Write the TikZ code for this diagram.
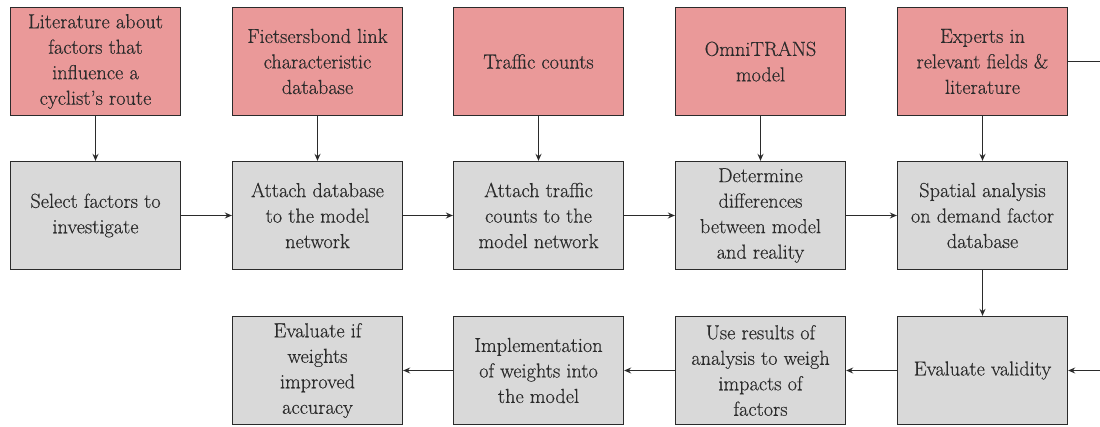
\documentclass[tikz,border=0pt]{standalone}
\usepackage{fontspec}
\newfontfamily\boxfont{Latin Modern Roman}[FakeBold=0.35]
\usepackage{tikz}
\usetikzlibrary{arrows.meta,positioning}

\definecolor{srcred}{HTML}{EA9999}
\definecolor{stepgray}{HTML}{D9D9D9}
\definecolor{inkgray}{HTML}{2B2B2B}

\tikzset{
    box/.style={draw=inkgray,line width=1.3pt,minimum width=170pt,minimum height=108pt,
        align=center,text=inkgray,font=\boxfont\fontsize{20.3}{25.5}\selectfont},
    srcbox/.style={box,fill=srcred},
    stepbox/.style={box,fill=stepgray},
    link/.style={line width=1.3pt,draw=inkgray,-{Stealth[length=7pt,width=6pt]}}
}

\begin{document}
\begin{tikzpicture}[x=1pt,y=-1pt]
    \useasboundingbox (0,0) rectangle (1100,427);

    % Inputs
    \node[srcbox] (lit) at (95.5,61.5) {Literature about\\factors that\\influence a\\cyclist’s route};
    \node[srcbox] (fbdb) at (317.5,61.5) {Fietsersbond link\\characteristic\\database};
    \node[srcbox] (counts) at (538.5,61.5) {Traffic counts};
    \node[srcbox] (omni) at (760.5,61.5) {OmniTRANS\\model};
    \node[srcbox] (experts) at (982.5,61.5) {Experts in\\relevant fields \&\\literature};

    % Steps, middle row
    \node[stepbox] (select) at (95.5,215.5) {Select factors to\\investigate};
    \node[stepbox] (attachdb) at (317.5,215.5) {Attach database\\to the model\\network};
    \node[stepbox] (attachtc) at (538.5,215.5) {Attach traffic\\counts to the\\model network};
    \node[stepbox] (diff) at (760.5,215.5) {Determine\\differences\\between model\\and reality};
    \node[stepbox] (spatial) at (982.5,215.5) {Spatial analysis\\on demand factor\\database};

    % Steps, bottom row
    \node[stepbox] (evalw) at (317.5,370.5) {Evaluate if\\weights\\improved\\accuracy};
    \node[stepbox] (impl) at (538.5,370.5) {Implementation\\of weights into\\the model};
    \node[stepbox] (useres) at (760.5,370.5) {Use results of\\analysis to weigh\\impacts of\\factors};
    \node[stepbox] (valid) at (982.5,370.5) {Evaluate validity};

    % Free ends at the right border
    \coordinate (outexp) at (1100,61.5);
    \coordinate (inval) at (1100,370.5);

    % Edges
    \draw[link] (lit) -- (select);
    \draw[link] (fbdb) -- (attachdb);
    \draw[link] (counts) -- (attachtc);
    \draw[link] (omni) -- (diff);
    \draw[link] (experts) -- (spatial);

    \draw[link] (select) -- (attachdb);
    \draw[link] (attachdb) -- (attachtc);
    \draw[link] (attachtc) -- (diff);
    \draw[link] (diff) -- (spatial);
    \draw[link] (spatial) -- (valid);

    \draw[line width=1.3pt,draw=inkgray] (experts) -- (outexp);
    \draw[link] (inval) -- (valid);
    \draw[link] (valid) -- (useres);
    \draw[link] (useres) -- (impl);
    \draw[link] (impl) -- (evalw);
\end{tikzpicture}
\end{document}
